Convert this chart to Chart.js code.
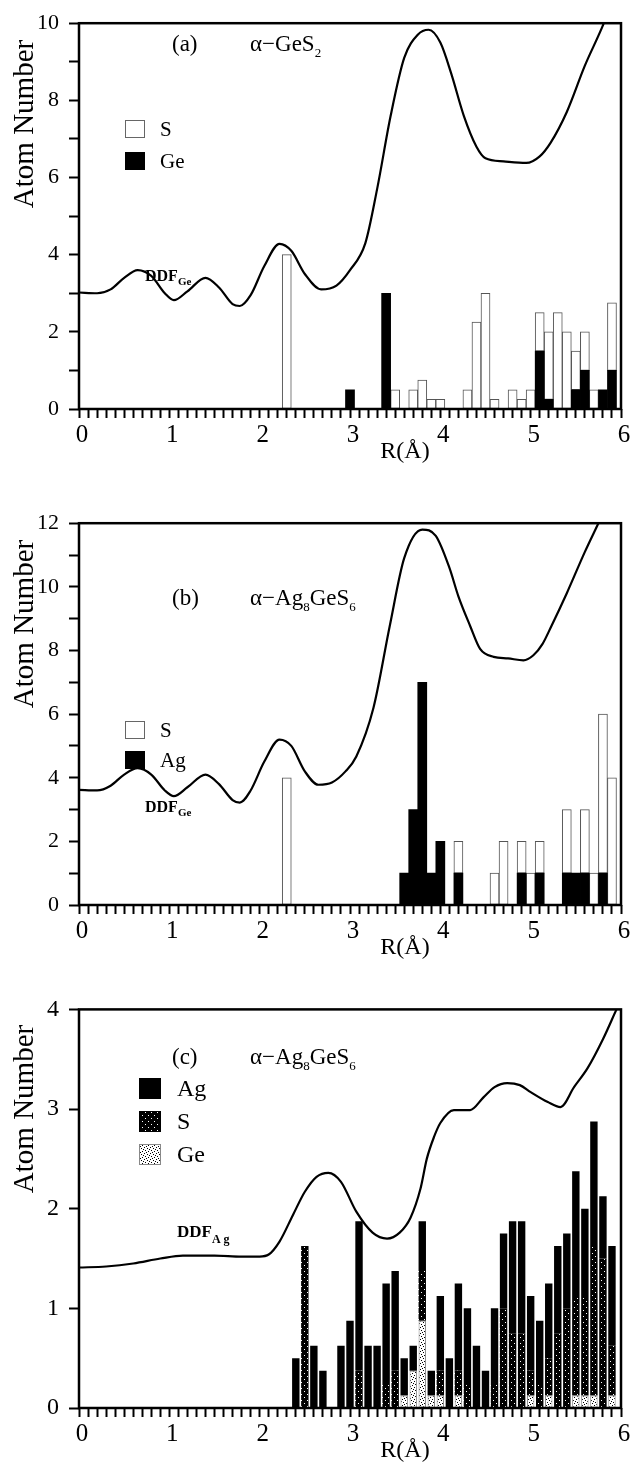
<!DOCTYPE html>
<html>
<head>
<meta charset="utf-8">
<script src="https://cdn.jsdelivr.net/npm/chart.js@4.4.1/dist/chart.umd.min.js"></script>
<style>
  html, body { margin: 0; padding: 0; background: #fff; }
  .panel { position: absolute; left: 0; width: 641px; }
  canvas { display: block; }
</style>
</head>
<body>
<div class="panel" style="top:0px"><canvas id="chartA" width="641" height="500"></canvas></div>
<div class="panel" style="top:500px"><canvas id="chartB" width="641" height="485"></canvas></div>
<div class="panel" style="top:985px"><canvas id="chartC" width="641" height="478"></canvas></div>
<script>
// ---- panel (a): alpha-GeS2, bins of 0.1 A (bar centres) ----
const aBins = [2.3, 3.0, 3.4, 3.5, 3.7, 3.8, 3.9, 4.0, 4.3, 4.4, 4.5, 4.6, 4.8, 4.9, 5.0, 5.1, 5.2, 5.3, 5.4, 5.5, 5.6, 5.7, 5.8, 5.9];
const aGe  = [0, 0.5, 3, 0, 0, 0, 0, 0, 0, 0, 0, 0, 0, 0, 0, 1.5, 0.25, 0, 0, 0.5, 1, 0, 0.5, 1];
const aS   = [4, 0, 0, 0.5, 0.5, 0.75, 0.25, 0.25, 0.5, 2.25, 3, 0.25, 0.5, 0.25, 0.5, 1, 1.75, 2.5, 2, 1, 1, 0.5, 0, 1.75];
const aCurveR = [0, 0.2, 0.35, 0.5, 0.65, 0.8, 0.95, 1.05, 1.2, 1.4, 1.55, 1.7, 1.78, 1.9, 2.05, 2.22, 2.35, 2.5, 2.68, 2.85, 3.0, 3.17, 3.3, 3.45, 3.6, 3.75, 3.87, 4.0, 4.12, 4.26, 4.4, 4.5, 4.7, 4.95, 5.1, 5.22, 5.4, 5.6, 5.81, 5.95];
const aCurve  = [3.02, 3.0, 3.1, 3.4, 3.6, 3.45, 3.0, 2.82, 3.05, 3.4, 3.15, 2.72, 2.67, 2.95, 3.7, 4.28, 4.1, 3.5, 3.1, 3.2, 3.6, 4.3, 5.7, 7.6, 9.1, 9.7, 9.83, 9.5, 8.7, 7.6, 6.8, 6.5, 6.42, 6.38, 6.55, 6.9, 7.7, 8.9, 10.0, 10.9];

// ---- panel (b): alpha-Ag8GeS6, DDF of Ge ----
const bBins = [2.3, 3.6, 3.7, 3.8, 3.9, 4.0, 4.2, 4.6, 4.7, 4.9, 5.0, 5.1, 5.4, 5.5, 5.6, 5.7, 5.8, 5.9];
const bAg   = [0, 1, 3, 7, 1, 2, 1, 0, 0, 1, 0, 1, 1, 1, 1, 0, 1, 0];
const bS    = [4, 0, 0, 0, 0, 0, 1, 1, 2, 1, 1, 1, 2, 0, 2, 1, 5, 4];
const bCurveR = [0, 0.2, 0.35, 0.5, 0.65, 0.8, 0.95, 1.05, 1.2, 1.4, 1.55, 1.7, 1.78, 1.9, 2.05, 2.22, 2.35, 2.5, 2.65, 2.8, 2.95, 3.07, 3.26, 3.44, 3.6, 3.8, 3.95, 4.1, 4.2, 4.33, 4.44, 4.59, 4.75, 4.92, 5.03, 5.13, 5.23, 5.4, 5.6, 5.75, 5.9];
const bCurve  = [3.62, 3.6, 3.75, 4.1, 4.3, 4.1, 3.6, 3.42, 3.7, 4.1, 3.8, 3.3, 3.22, 3.6, 4.5, 5.2, 5.0, 4.2, 3.78, 3.85, 4.2, 4.67, 6.2, 8.77, 10.9, 11.8, 11.6, 10.6, 9.7, 8.77, 8.05, 7.8, 7.75, 7.69, 7.85, 8.2, 8.77, 9.8, 11.1, 12.0, 12.9];

// ---- panel (c): alpha-Ag8GeS6, DDF of Ag ----
const cBins = [2.4, 2.5, 2.6, 2.7, 2.9, 3.0, 3.1, 3.2, 3.3, 3.4, 3.5, 3.6, 3.7, 3.8, 3.9, 4.0, 4.1, 4.2, 4.3, 4.4, 4.5, 4.6, 4.7, 4.8, 4.9, 5.0, 5.1, 5.2, 5.3, 5.4, 5.5, 5.6, 5.7, 5.8, 5.9];
const cGe = [0, 0, 0, 0, 0, 0, 0, 0, 0, 0, 0, 0.125, 0.375, 0.875, 0.125, 0.125, 0, 0.125, 0, 0, 0, 0, 0, 0, 0, 0.125, 0, 0.125, 0, 0, 0.125, 0.125, 0.125, 0, 0.125];
const cS  = [0, 1.625, 0, 0, 0, 0, 0.375, 0, 0, 0.25, 0.375, 0, 0, 0.5, 0, 0.25, 0, 0.25, 0.25, 0, 0, 0.25, 1.0, 0.75, 0.75, 0.25, 0.25, 0.375, 0.75, 1.0, 1.0, 1.0, 1.5, 1.5, 0.5];
const cAg = [0.5, 0, 0.625, 0.375, 0.625, 0.875, 1.5, 0.625, 0.625, 1.0, 1.0, 0.375, 0.25, 0.5, 0.25, 0.75, 0.5, 0.875, 0.75, 0.625, 0.375, 0.75, 0.75, 1.125, 1.125, 0.75, 0.625, 0.75, 0.875, 0.75, 1.25, 0.875, 1.25, 0.625, 1.0];
const cCurveR = [0, 0.3, 0.6, 0.9, 1.15, 1.5, 1.8, 2.0, 2.1, 2.22, 2.37, 2.5, 2.63, 2.76, 2.9, 3.07, 3.25, 3.41, 3.55, 3.67, 3.78, 3.85, 3.93, 4.0, 4.15, 4.33, 4.48, 4.6, 4.74, 4.88, 5.0, 5.19, 5.33, 5.48, 5.63, 5.8, 5.95, 6.05];
const cCurve  = [1.41, 1.42, 1.45, 1.5, 1.53, 1.53, 1.52, 1.52, 1.54, 1.67, 1.94, 2.17, 2.32, 2.36, 2.27, 1.97, 1.76, 1.70, 1.76, 1.91, 2.2, 2.5, 2.72, 2.86, 2.99, 2.99, 3.12, 3.22, 3.26, 3.24, 3.17, 3.07, 3.02, 3.22, 3.41, 3.7, 4.0, 4.2];

const serif = '"Liberation Serif", "DejaVu Serif", serif';

function points(xs, ys) {
    return xs.map((x, i) => ({ x: x, y: ys[i] })).filter(p => p.y > 0);
}

// small repeating dot patterns for the stippled bars
function stipple(bg, fg, dots, size) {
    const c = document.createElement('canvas');
    c.width = size; c.height = size;
    const g = c.getContext('2d');
    g.fillStyle = bg;
    g.fillRect(0, 0, size, size);
    g.fillStyle = fg;
    dots.forEach(d => g.fillRect(d[0], d[1], 1, 1));
    return g.createPattern(c, 'repeat');
}
const geDots = stipple('#fff', '#000', [[0, 0], [3, 1], [1, 3], [4, 4], [2, 5], [5, 2]], 6);
const sDots = stipple('#000', '#fff', [[1, 1], [4, 4]], 6);

function drawRuns(ctx, x, y, runs, center) {
    let total = 0;
    runs.forEach(r => {
        ctx.font = (r[3] || 'normal') + ' ' + r[1] + 'px ' + serif;
        total += ctx.measureText(r[0]).width;
    });
    let cx = center ? x - total / 2 : x;
    runs.forEach(r => {
        ctx.font = (r[3] || 'normal') + ' ' + r[1] + 'px ' + serif;
        ctx.fillText(r[0], cx, y + (r[2] || 0));
        cx += ctx.measureText(r[0]).width;
    });
}

// frame, legend boxes and text labels of one panel
function annotator(cfg) {
    return {
        id: 'annot',
        afterDraw(chart) {
            const ctx = chart.ctx;
            const a = chart.chartArea;
            ctx.save();
            ctx.strokeStyle = '#000';
            ctx.lineWidth = 2.5;
            ctx.strokeRect(a.left, a.top, a.right - a.left, a.bottom - a.top);

            ctx.fillStyle = '#000';
            ctx.textBaseline = 'alphabetic';
            cfg.notes.forEach(n => drawRuns(ctx, n.x, n.y, n.runs, n.center));

            cfg.legend.forEach(l => {
                ctx.fillStyle = l.fill;
                ctx.fillRect(l.x, l.y, l.w, l.h);
                ctx.lineWidth = 1;
                ctx.strokeStyle = l.stroke;
                ctx.strokeRect(l.x + 0.5, l.y + 0.5, l.w - 1, l.h - 1);
                ctx.fillStyle = '#000';
                ctx.textBaseline = 'middle';
                ctx.font = cfg.legendSize + 'px ' + serif;
                ctx.fillText(l.label, l.tx, l.y + l.h / 2 + 1);
            });

            ctx.textBaseline = 'alphabetic';
            ctx.translate(cfg.yTitle.x, cfg.yTitle.y);
            ctx.rotate(-Math.PI / 2);
            ctx.textAlign = 'center';
            ctx.font = cfg.yTitle.size + 'px ' + serif;
            ctx.fillText('Atom Number', 0, 0);
            ctx.restore();
        }
    };
}

function makePanel(id, cfg) {
    const sets = cfg.bars.map(b => ({
        label: b.label,
        data: points(cfg.bins, b.values),
        backgroundColor: b.color,
        borderColor: b.border || b.color,
        borderWidth: b.borderWidth || 0,
        borderSkipped: false,
        barPercentage: cfg.barPct,
        categoryPercentage: 1.0
    }));
    sets.push({
        type: 'line',
        label: 'DDF',
        data: points(cfg.curveR, cfg.curve),
        yAxisID: 'yc',
        borderColor: '#000',
        borderWidth: 2.2,
        pointRadius: 0,
        fill: false,
        cubicInterpolationMode: 'monotone'
    });

    const whole = v => Math.abs(v - Math.round(v)) < 1e-6;

    new Chart(document.getElementById(id), {
        type: 'bar',
        data: { datasets: sets },
        options: {
            responsive: false,
            animation: false,
            devicePixelRatio: 1,
            layout: { padding: { top: 15, right: 20, left: 0, bottom: 0 } },
            plugins: { legend: { display: false }, tooltip: { enabled: false } },
            scales: {
                x: {
                    type: 'linear', min: 0, max: 6, stacked: true, offset: false,
                    grid: { offset: false, drawOnChartArea: false, tickLength: 9, tickWidth: 2, tickColor: '#000' },
                    border: { display: false },
                    ticks: {
                        stepSize: 0.1, autoSkip: false, maxRotation: 0, minRotation: 0, padding: 2, labelOffset: 3,
                        color: '#000', font: { family: serif, size: 25 },
                        callback: v => whole(v) ? String(Math.round(v)) : ''
                    },
                    afterFit: s => { s.height = cfg.xHeight; }
                },
                y: {
                    min: 0, max: cfg.yMax, stacked: true,
                    grid: { drawOnChartArea: false, tickLength: 10, tickWidth: 2, tickColor: '#000' },
                    border: { display: false },
                    ticks: {
                        stepSize: 1, autoSkip: false, padding: 10,
                        color: '#000', font: { family: serif, size: cfg.ySize },
                        callback: v => (Math.round(v) % cfg.labelEvery === 0) ? String(Math.round(v)) : ''
                    },
                    afterFit: s => { s.width = 79; }
                },
                yc: { display: false, min: 0, max: cfg.yMax }
            }
        },
        plugins: [annotator(cfg)]
    });
}

makePanel('chartA', {
    bins: aBins, curveR: aCurveR, curve: aCurve, yMax: 10, labelEvery: 2, ySize: 22, xHeight: 91, barPct: 1.0,
    bars: [
        { label: 'Ge', values: aGe, color: '#000' },
        { label: 'S', values: aS, color: '#fff', border: '#555', borderWidth: 1 }
    ],
    notes: [
        { x: 172, y: 51, runs: [['(a)', 23]] },
        { x: 250, y: 51, runs: [['\u03b1\u2212GeS', 23], ['2', 13, 6]] },
        { x: 145, y: 281, runs: [['DDF', 16, 0, 'bold'], ['Ge', 11, 4, 'bold']] },
        { x: 405, y: 458, center: true, runs: [['R(\u00c5)', 24]] }
    ],
    legendSize: 21,
    legend: [
        { x: 125, y: 120, w: 20, h: 18, fill: '#fff', stroke: '#666', label: 'S', tx: 160 },
        { x: 125, y: 152, w: 20, h: 18, fill: '#000', stroke: '#000', label: 'Ge', tx: 160 }
    ],
    yTitle: { x: 33, y: 124, size: 29 }
});

makePanel('chartB', {
    bins: bBins, curveR: bCurveR, curve: bCurve, yMax: 12, labelEvery: 2, ySize: 22, xHeight: 80, barPct: 1.0,
    bars: [
        { label: 'Ag', values: bAg, color: '#000' },
        { label: 'S', values: bS, color: '#fff', border: '#555', borderWidth: 1 }
    ],
    notes: [
        { x: 172, y: 105, runs: [['(b)', 23]] },
        { x: 250, y: 105, runs: [['\u03b1\u2212Ag', 23], ['8', 13, 6], ['GeS', 23], ['6', 13, 6]] },
        { x: 145, y: 312, runs: [['DDF', 16, 0, 'bold'], ['Ge', 11, 4, 'bold']] },
        { x: 405, y: 454, center: true, runs: [['R(\u00c5)', 24]] }
    ],
    legendSize: 21,
    legend: [
        { x: 125, y: 221, w: 20, h: 18, fill: '#fff', stroke: '#666', label: 'S', tx: 160 },
        { x: 125, y: 251, w: 20, h: 18, fill: '#000', stroke: '#000', label: 'Ag', tx: 160 }
    ],
    yTitle: { x: 33, y: 124, size: 29 }
});

makePanel('chartC', {
    bins: cBins, curveR: cCurveR, curve: cCurve, yMax: 4, labelEvery: 1, ySize: 24, xHeight: 55, barPct: 0.82,
    bars: [
        { label: 'Ge', values: cGe, color: geDots, border: '#888', borderWidth: 1 },
        { label: 'S', values: cS, color: sDots },
        { label: 'Ag', values: cAg, color: '#000' }
    ],
    notes: [
        { x: 172, y: 79, runs: [['(c)', 23]] },
        { x: 250, y: 79, runs: [['\u03b1\u2212Ag', 23], ['8', 13, 6], ['GeS', 23], ['6', 13, 6]] },
        { x: 177, y: 252, runs: [['DDF', 17, 0, 'bold'], ['A g', 12, 6, 'bold']] },
        { x: 405, y: 472, center: true, runs: [['R(\u00c5)', 24]] }
    ],
    legendSize: 24,
    legend: [
        { x: 139, y: 93, w: 22, h: 21, fill: '#000', stroke: '#000', label: 'Ag', tx: 177 },
        { x: 139, y: 126, w: 22, h: 21, fill: sDots, stroke: '#000', label: 'S', tx: 177 },
        { x: 139, y: 159, w: 22, h: 21, fill: geDots, stroke: '#888', label: 'Ge', tx: 177 }
    ],
    yTitle: { x: 33, y: 124, size: 29 }
});
</script>
</body>
</html>
